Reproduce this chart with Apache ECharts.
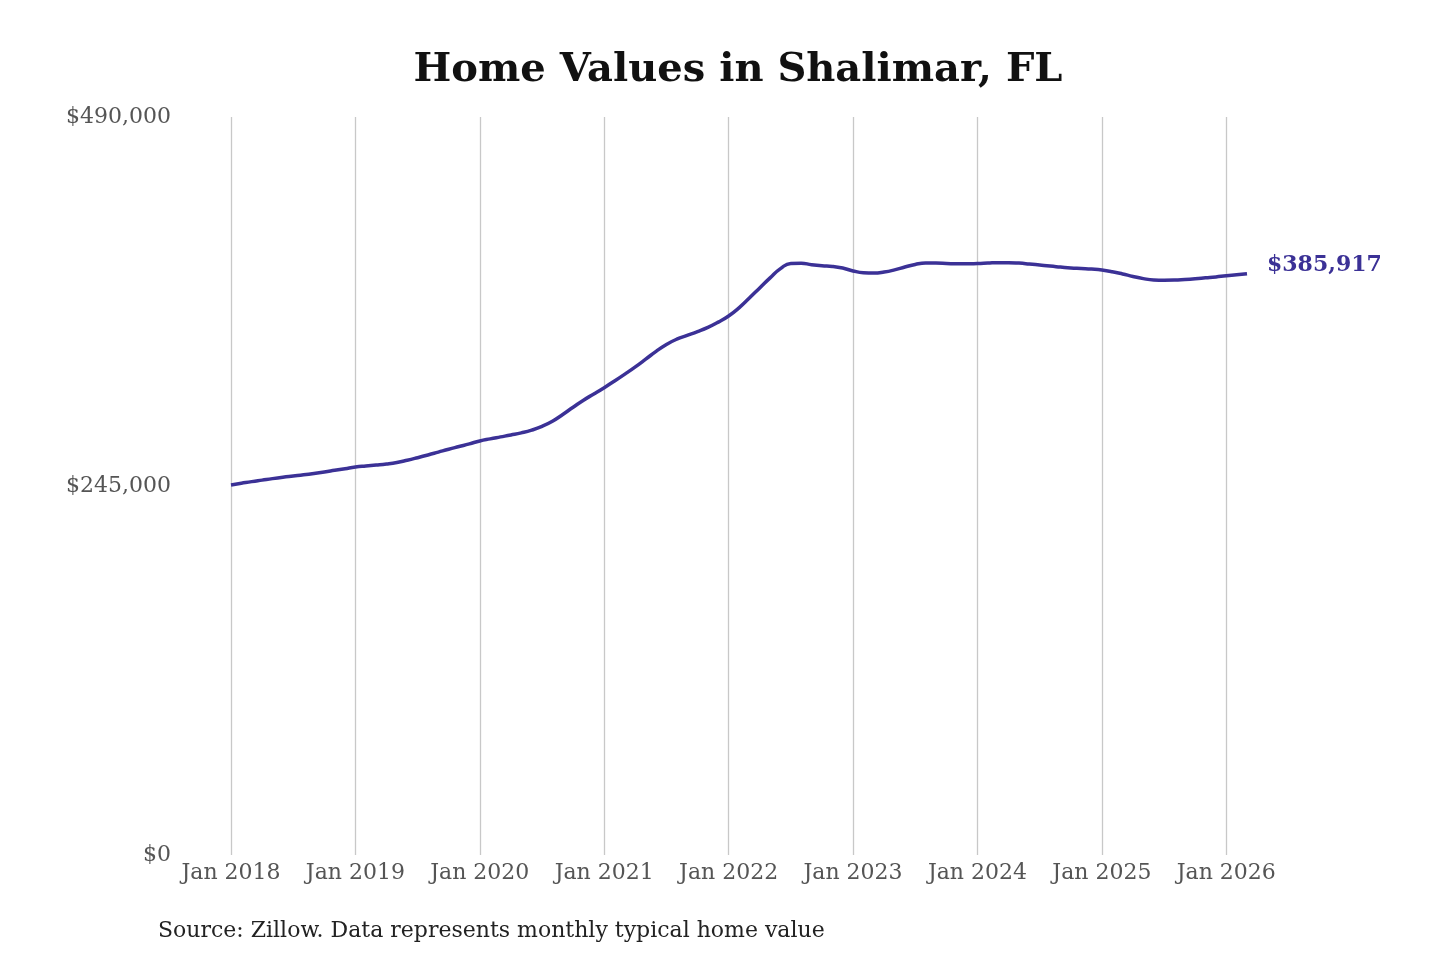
<!DOCTYPE html>
<html>
<head>
<meta charset="utf-8">
<script src="https://cdn.jsdelivr.net/npm/echarts@6/dist/echarts.min.js"></script>
<style>
  html, body { margin: 0; padding: 0; background: #fff; }
  #homeValues { width: 1440px; height: 960px; }
</style>
</head>
<body>
<div id="homeValues"></div>
<script>
var monthNames = ['Jan', 'Feb', 'Mar', 'Apr', 'May', 'Jun', 'Jul', 'Aug', 'Sep', 'Oct', 'Nov', 'Dec'];
var startYear = 2018;
// Jan 2018 .. Mar 2026, monthly typical home value (one row per year)
var homeValues = [
  245700, 246800, 247900, 248900, 249900, 250800, 251600, 252400, 253300, 254300, 255400, 256500,
  257600, 258300, 258900, 259600, 260600, 262100, 263800, 265600, 267500, 269400, 271200, 273000,
  274900, 276300, 277600, 278900, 280300, 282100, 284600, 288000, 292500, 297300, 302000, 306100,
  310300, 314700, 319300, 324100, 329200, 334400, 339000, 342500, 345000, 347500, 350300, 353800,
  357900, 363300, 369800, 376500, 383200, 389300, 392800, 392900, 391900, 391200, 390800, 389700,
  387800, 386600, 386400, 387100, 388500, 390400, 392100, 393000, 393000, 392800, 392500, 392500,
  392700, 393000, 393300, 393300, 393000, 392400, 391700, 391000, 390400, 389800, 389400, 389000,
  388400, 387300, 385800, 384100, 382700, 381800, 381600, 381700, 382100, 382600, 383200, 383800,
  384600, 385200, 385917
];
var yTicks = [0, 245000, 490000];

var months = homeValues.map(function (v, i) {
    return monthNames[i % 12] + ' ' + (startYear + Math.floor(i / 12));
});

var fontFam = '"DejaVu Serif", serif';
function money(v) {
    return '$' + Math.round(v).toLocaleString('en-US');
}

var chart = echarts.init(document.getElementById('homeValues'));
var option = {
    backgroundColor: '#fff',
    animation: false,
    title: {
        text: 'Home Values in Shalimar, FL',
        left: 733,
        top: 46,
        textAlign: 'center',
        textStyle: {
            fontFamily: fontFam,
            fontWeight: 'bold',
            fontSize: 40,
            color: '#111'
        }
    },
    graphic: [{
        type: 'text',
        left: 158,
        top: 920,
        style: {
            text: 'Source: Zillow. Data represents monthly typical home value',
            font: '22px ' + fontFam,
            fill: '#222'
        }
    }],
    grid: {
        left: 231,
        right: 193,
        top: 117,
        bottom: 105,
        containLabel: false
    },
    xAxis: {
        type: 'category',
        data: months,
        boundaryGap: false,
        axisLine: { show: false },
        axisTick: { show: false },
        axisLabel: {
            interval: function (i) { return i % 12 === 0; },
            margin: 7,
            fontFamily: fontFam,
            fontSize: 22,
            color: '#555'
        },
        splitLine: {
            show: true,
            interval: function (i) { return i % 12 === 0; },
            lineStyle: { color: '#c8c8c8', width: 1.3 }
        }
    },
    yAxis: {
        type: 'value',
        min: yTicks[0],
        max: yTicks[2],
        interval: yTicks[1],
        axisLine: { show: false },
        axisTick: { show: false },
        splitLine: { show: false },
        axisLabel: {
            margin: 60,
            fontFamily: fontFam,
            fontSize: 22,
            color: '#555',
            formatter: money
        }
    },
    series: [{
        type: 'line',
        data: homeValues,
        smooth: true,
        showSymbol: false,
        lineStyle: { color: '#3b3196', width: 3.5 },
        endLabel: {
            show: true,
            distance: 20,
            offset: [0, -8],
            formatter: function (p) { return money(p.value); },
            fontFamily: fontFam,
            fontWeight: 'bold',
            fontSize: 22,
            color: '#3b3196'
        }
    }]
};
chart.setOption(option);
</script>
</body>
</html>
